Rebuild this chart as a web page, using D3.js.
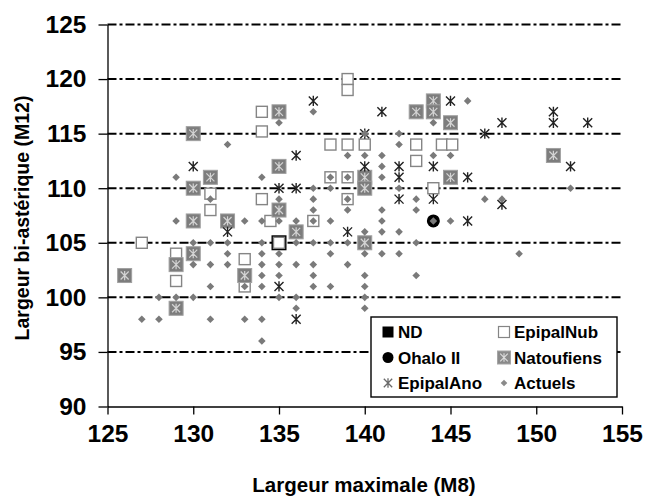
<!DOCTYPE html>
<html>
<head>
<meta charset="utf-8">
<script src="https://cdn.jsdelivr.net/npm/d3@7"></script>
<style>
  html, body { margin: 0; padding: 0; background: #fff; }
  svg { display: block; font-family: "Liberation Sans", Arial, sans-serif; }
</style>
</head>
<body>
<svg id="chart" width="645" height="499"></svg>
<script>
// ---- data (x = Largeur maximale M8, y = Largeur bi-astérique M12) ----
const xTicks = [125, 130, 135, 140, 145, 150, 155];
const yTicks = [90, 95, 100, 105, 110, 115, 120, 125];
const gridValues = [95, 100, 105, 110, 115, 120, 125];

const ndData = [[135, 105]];
const ohaloData = [[144, 107]];
const epipalNubData = [
  [127,105],[129,104],[129,101.5],[131,109.5],[131,108],[133,103.5],[133,101],
  [134,117],[134,115.2],[134,109],[134.5,107],[135,105],[137,107],[138,114],
  [139,114],[140,114],[138,111],[139,111],[139,109],[139,120],[139,119],
  [143,114],[143,112.5],[144,110],[144.5,114],[145.1,114]
];
const natoufiensData = [
  [126,102],[129,103],[129,99],[130,115],[130,110],[130,107],[130,104],[131,111],
  [132,107],[133,102],[135,117],[135,112],[135,108],[136,106],[140,111],[140,110],
  [140,105],[143,117],[144,118],[144,117],[145,116],[145,111],[151,113]
];
const epipalAnoData = [
  [130,112],[132,106],[135,110],[135,101],[136,110],[136,113],[136,98],[137,118],
  [139,106],[140,115],[140,112],[141,117],[142,112],[142,111],[142,109],[144,112],
  [144,109],[145,118],[146,111],[146,107],[147,115],[148,116],[148,108.5],[151,117],
  [151,116],[152,112],[153,116]
];
const actuelsData = [
  [132,114],[135,116],[137,117],[144,116],[146,118],[140,115],[142,115],[142,114],
  [139,113],[140,113],[141,113],[144,113],[145,113],[141,112],[141,111],[138,111],
  [139,111],[129,111],[134,111],[131,109],[135,109],[137,109],[139,109],[143,109],
  [147,109],[148,109],[152,110],[142,110],[137,110],[138,110],[137,108],[139,108],
  [141,108],[143,108],[129,107],[133,107],[134,107],[135,107],[136,107],[137,107],
  [138,107],[141,107],[144,107],[145,107],[140,106],[141,106],[142,106],
  [130,105],[131,105],[132,105],[134,105],[136,105],[137,105],[138,105],[139,105],[143,105],
  [132,104],[134,104],[135,104],[138,104],[140,104],[141,104],[142,104],[149,104],
  [130,103],[131,103],[132,103],[134,103],[135,103],[136,103],[137,103],[139,103],
  [134,102],[135,102],[137,102],[140,102],[143,102],
  [131,101],[133,101],[134,101],[137,101],[138,101],[140,101],
  [128,100],[129,100],[130,100],[135,100],[136,100],[140,100],
  [136,99],[140,99],
  [127,98],[128,98],[131,98],[133,98],[134,98],
  [134,96]
];
const legendLabels = ["ND", "EpipalNub", "Ohalo II", "Natoufiens", "EpipalAno", "Actuels"];
const xTitle = "Largeur maximale (M8)";
const yTitle = "Largeur bi-astérique (M12)";

// ---- layout ----
const svg = d3.select("#chart");
const x = d3.scaleLinear().domain([125, 155]).range([107.5, 622]);
const y = d3.scaleLinear().domain([90, 125]).range([406.5, 24.5]);

// gridlines
svg.append("g").selectAll("line").data(gridValues).join("line")
  .attr("x1", x(125)).attr("x2", x(155))
  .attr("y1", d => y(d)).attr("y2", d => y(d))
  .attr("stroke", "#000").attr("stroke-width", 2)
  .attr("stroke-dasharray", "9,3,3,3");

// axes
const xAxis = svg.append("g").attr("transform", `translate(0,${y(90)})`)
  .call(d3.axisBottom(x).tickValues(xTicks).tickSize(8).tickPadding(10).tickSizeOuter(0));
const yAxis = svg.append("g").attr("transform", `translate(${x(125)},0)`)
  .call(d3.axisLeft(y).tickValues(yTicks).tickSize(9).tickPadding(12).tickSizeOuter(0));
[xAxis, yAxis].forEach(a => {
  a.select(".domain").attr("stroke", "#000").attr("stroke-width", 1.3);
  a.selectAll(".tick line").attr("stroke", "#000").attr("stroke-width", 1.3);
  a.selectAll("text").attr("fill", "#000")
    .style("font-family", '"Liberation Sans", Arial, sans-serif')
    .style("font-size", "24.5px").style("font-weight", "bold");
});
xAxis.selectAll("text").attr("dy", "0.71em");

// axis titles
svg.append("text").attr("x", 364).attr("y", 492).attr("text-anchor", "middle")
  .style("font-size", "20.5px").style("font-weight", "bold").text(xTitle);
svg.append("text").attr("transform", "translate(29,218) rotate(-90)").attr("text-anchor", "middle")
  .style("font-size", "19.5px").style("font-weight", "bold").text(yTitle);

// marker painters
function star(g, s, color, w) {
  g.append("path")
    .attr("d", `M${-s},${-s}L${s},${s}M${-s},${s}L${s},${-s}M0,${-s * 1.15}L0,${s * 1.15}`)
    .attr("stroke", color).attr("stroke-width", w).attr("fill", "none");
}
const painters = {
  nd: g => g.append("rect").attr("x", -7.5).attr("y", -7.5).attr("width", 15).attr("height", 15).attr("fill", "#000"),
  nub: g => g.append("rect").attr("x", -5.5).attr("y", -5.5).attr("width", 11).attr("height", 11)
    .attr("fill", "#fff").attr("stroke", "#858585").attr("stroke-width", 1.4),
  ohalo: g => g.append("circle").attr("r", 6.5).attr("fill", "#000"),
  nat: g => {
    g.append("rect").attr("x", -7).attr("y", -7).attr("width", 14).attr("height", 14)
      .attr("fill", "#7d7d7d").attr("stroke", "#a0a0a0").attr("stroke-width", 1);
    star(g, 4, "#d4d4d4", 1.2);
  },
  ano: g => star(g, 4.5, "#222", 1.4),
  act: g => g.append("path").attr("d", "M0,-3.8L3.8,0L0,3.8L-3.8,0Z").attr("fill", "#7a7a7a")
};

const seriesList = [
  { data: ndData, paint: painters.nd },
  { data: epipalNubData, paint: painters.nub },
  { data: ohaloData, paint: painters.ohalo },
  { data: natoufiensData, paint: painters.nat },
  { data: epipalAnoData, paint: painters.ano },
  { data: actuelsData, paint: painters.act }
];
seriesList.forEach(s => {
  svg.append("g").selectAll("g").data(s.data).join("g")
    .attr("transform", d => `translate(${x(d[0])},${y(d[1])})`)
    .each(function () { s.paint(d3.select(this)); });
});

// legend
const lg = svg.append("g");
lg.append("rect").attr("x", 371).attr("y", 317).attr("width", 246).attr("height", 80)
  .attr("fill", "#fff").attr("stroke", "#000").attr("stroke-width", 1.4);
const legendPainters = [
  g => g.append("rect").attr("x", -5.5).attr("y", -5.5).attr("width", 11).attr("height", 11).attr("fill", "#000"),
  g => g.append("rect").attr("x", -5.5).attr("y", -5.5).attr("width", 11).attr("height", 11)
    .attr("fill", "#fff").attr("stroke", "#858585").attr("stroke-width", 1.2),
  g => g.append("circle").attr("r", 5.5).attr("fill", "#000"),
  g => {
    g.append("rect").attr("x", -6.5).attr("y", -6.5).attr("width", 13).attr("height", 13)
      .attr("fill", "#8a8a8a").attr("stroke", "#a5a5a5");
    star(g, 3.8, "#dcdcdc", 1.1);
  },
  g => star(g, 4.2, "#6a6a6a", 1.3),
  g => g.append("path").attr("d", "M0,-3.3L3.3,0L0,3.3L-3.3,0Z").attr("fill", "#8a8a8a")
];
const colX = [388, 504], rowY = [332, 357.5, 383];
legendLabels.forEach((lab, i) => {
  const cx = colX[i % 2], cy = rowY[Math.floor(i / 2)];
  const g = lg.append("g").attr("transform", `translate(${cx},${cy})`);
  legendPainters[i](g);
  lg.append("text").attr("x", cx + 10).attr("y", cy).attr("dy", "0.36em")
    .style("font-size", "17px").style("font-weight", "bold").text(lab);
});
</script>
</body>
</html>
